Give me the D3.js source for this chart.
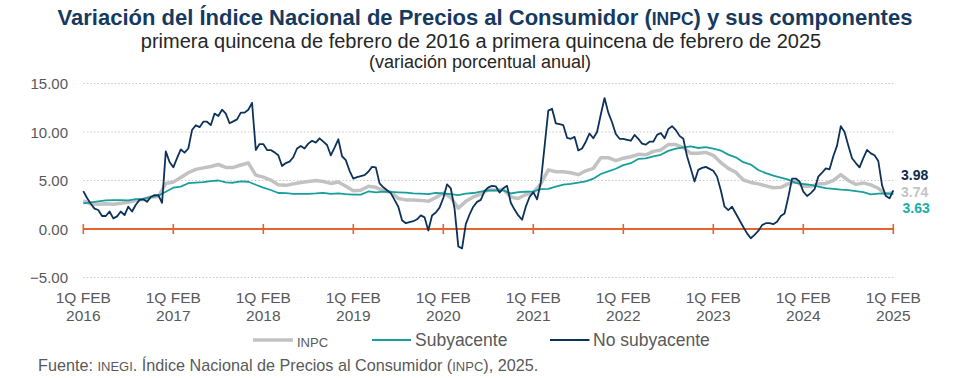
<!DOCTYPE html>
<html>
<head>
<meta charset="utf-8">
<script src="https://cdn.jsdelivr.net/npm/d3@7/dist/d3.min.js"></script>
<style>
  html, body { margin: 0; padding: 0; background: #ffffff; }
  svg { display: block; font-family: "Liberation Sans", Arial, sans-serif; }
</style>
</head>
<body>
<svg id="chart" width="977" height="378"></svg>
<script>
// ---- Data (annual % change, biweekly index q: 0 = 1Q Feb 2016 ... 216 = 1Q Feb 2025) ----
const yearLabels = ["2016","2017","2018","2019","2020","2021","2022","2023","2024","2025"];
const tickQ = [0,24,48,72,96,120,144,168,192,216];
const yTicks = [-5, 0, 5, 10, 15];

// INPC (headline) – monthly readings (1Q of each month), q = 2*k
const inpc = [2.9,2.6,2.55,2.6,2.55,2.65,2.75,2.95,3.05,3.3,3.35,
  4.7,4.85,5.3,5.8,6.15,6.3,6.45,6.65,6.35,6.35,6.6,6.8,
  5.55,5.35,5.05,4.55,4.5,4.65,4.8,4.9,5.0,4.9,4.7,4.85,
  4.4,3.95,4.0,4.4,4.3,3.95,3.8,3.15,3.0,3.0,2.95,2.85,
  3.25,3.7,3.25,2.15,2.85,3.3,3.6,4.05,4.0,4.1,3.3,3.15,
  3.55,3.75,4.65,6.1,5.9,5.9,5.8,5.6,6.0,6.25,7.35,7.35,
  7.05,7.3,7.45,7.7,7.65,8.0,8.15,8.7,8.7,8.4,7.8,7.8,
  7.9,7.6,6.85,6.25,5.85,5.05,4.8,4.65,4.45,4.25,4.3,4.65,
  4.9,4.4,4.4,4.65,4.7,5.0,5.6,5.0,4.6,4.75,4.55,4.2,
  3.6,3.74];

// Subyacente (core) – monthly readings, q = 2*k
const subyacente = [2.65,2.75,2.85,2.95,2.97,2.97,2.96,3.07,3.1,3.29,3.44,
  3.84,4.26,4.37,4.72,4.78,4.83,4.94,5.0,4.8,4.77,4.9,4.87,
  4.56,4.27,4.02,3.71,3.69,3.62,3.63,3.63,3.67,3.73,3.63,3.68,
  3.6,3.54,3.55,3.87,3.77,3.85,3.82,3.78,3.75,3.68,3.65,3.59,
  3.73,3.66,3.6,3.5,3.64,3.71,3.85,3.97,3.99,3.98,3.66,3.8,
  3.84,3.87,4.12,4.13,4.37,4.58,4.66,4.78,4.92,5.19,5.67,5.94,
  6.21,6.59,6.78,7.22,7.28,7.49,7.65,8.05,8.28,8.42,8.51,8.35,
  8.45,8.29,8.09,7.67,7.39,6.89,6.64,6.08,5.76,5.5,5.3,5.09,
  4.76,4.64,4.55,4.37,4.21,4.13,4.05,4.0,3.91,3.8,3.58,3.65,
  3.66,3.63];

// No subyacente (non-core) – biweekly readings, q = index
const noSubyacente = [3.9,3.2,2.6,2.1,1.96,1.34,1.34,1.8,1.1,1.3,1.8,1.44,2.3,1.8,2.5,3.0,3.06,2.8,3.3,3.5,3.5,2.7,
  8.0,6.9,6.36,7.3,8.2,7.87,8.3,10.2,10.7,10.5,11.06,11.06,10.7,11.9,11.65,12.3,11.9,10.9,11.1,11.3,12.0,12.0,12.3,13.0,
  8.14,8.76,8.76,8.14,8.14,7.9,7.6,6.5,6.8,6.94,7.4,8.3,8.56,8.3,8.8,9.1,8.9,9.35,9.0,8.66,7.6,8.4,9.25,7.5,
  7.1,6.0,5.2,5.35,5.45,5.55,5.9,6.4,6.35,4.7,4.3,4.0,3.7,3.0,2.3,0.9,0.6,0.7,0.8,1.0,1.4,1.2,-0.15,1.4,
  1.7,2.2,3.2,4.6,4.2,2.1,-1.8,-2.0,0.5,1.5,2.3,2.8,3.0,3.9,4.3,4.45,4.4,3.75,4.2,4.45,2.7,2.0,1.4,0.95,
  2.3,3.3,3.8,3.05,4.8,8.5,12.2,12.4,10.9,10.8,10.7,9.4,9.3,9.5,8.1,8.3,9.0,9.85,9.35,10.0,11.8,13.5,12.0,11.0,
  9.8,9.3,9.3,9.2,9.1,9.7,9.3,8.8,8.7,9.0,9.0,9.7,9.9,9.35,10.3,10.6,10.2,9.6,9.3,7.5,6.2,4.9,6.1,6.3,
  6.4,6.2,6.0,5.4,4.0,2.3,1.95,2.3,1.6,0.9,0.2,-0.45,-0.95,-0.6,-0.2,0.4,0.6,0.6,0.5,0.75,1.35,1.6,3.3,5.2,
  5.2,4.9,3.85,3.4,3.7,4.1,5.4,5.8,6.25,6.15,7.5,8.6,10.6,10.0,8.6,7.3,6.8,6.35,7.3,8.15,7.8,7.6,7.0,4.5,
  3.4,3.16,3.98];

const lastValues = {noSub: "3.98", inpc: "3.74", sub: "3.63"};

// ---- Chart ----
const svg = d3.select("#chart");
const C = {navy: "#0c3259", teal: "#179f9c", gray: "#c2c2c2", orange: "#e3642c", text: "#595959", title: "#163a5f"};

const x = d3.scaleLinear().domain([0, 216]).range([83.3, 893.3]);
const y = d3.scaleLinear().domain([-5, 15]).range([277.5, 83.5]);

// Title
const t = svg.append("text").attr("x", 485).attr("y", 25).attr("text-anchor", "middle")
  .attr("font-size", 22).attr("font-weight", "bold").attr("fill", C.title);
t.append("tspan").text("Variación del Índice Nacional de Precios al Consumidor (");
t.append("tspan").attr("font-size", 17.5).text("INPC");
t.append("tspan").text(") y sus componentes");

svg.append("text").attr("x", 481).attr("y", 47.5).attr("text-anchor", "middle")
  .attr("font-size", 20).attr("fill", "#262626")
  .text("primera quincena de febrero de 2016 a primera quincena de febrero de 2025");
svg.append("text").attr("x", 480).attr("y", 68).attr("text-anchor", "middle")
  .attr("font-size", 18).attr("fill", "#262626")
  .text("(variación porcentual anual)");

// Gridlines
svg.append("g").selectAll("line").data(yTicks.filter(d => d !== 0)).join("line")
  .attr("x1", x(0)).attr("x2", x(216))
  .attr("y1", d => y(d)).attr("y2", d => y(d))
  .attr("stroke", "#c8c8c8").attr("stroke-width", 1).attr("stroke-dasharray", "1.5,2");

// Y axis labels
const yAxis = d3.axisLeft(y).tickValues(yTicks).tickFormat(d3.format(".2f")).tickSize(0).tickPadding(0);
const gy = svg.append("g").attr("transform", "translate(68,0)").call(yAxis);
gy.select(".domain").remove();
gy.selectAll("text").attr("font-size", 15).attr("fill", C.text)
  .attr("font-family", "Liberation Sans, Arial, sans-serif").attr("dy", "0.36em");

// X axis labels
const gx = svg.append("g");
gx.selectAll("text.q").data(tickQ).join("text").attr("class", "q")
  .attr("x", d => x(d)).attr("y", 303).attr("text-anchor", "middle")
  .attr("font-size", 15.5).attr("fill", C.text).text("1Q FEB");
gx.selectAll("text.yr").data(tickQ).join("text").attr("class", "yr")
  .attr("x", d => x(d)).attr("y", 320.5).attr("text-anchor", "middle")
  .attr("font-size", 15.5).attr("fill", C.text).text((d, i) => yearLabels[i]);

// Zero line with ticks
svg.append("line").attr("x1", x(0)).attr("x2", x(216)).attr("y1", y(0)).attr("y2", y(0))
  .attr("stroke", C.orange).attr("stroke-width", 2);
svg.append("g").selectAll("line").data(tickQ).join("line")
  .attr("x1", d => x(d)).attr("x2", d => x(d))
  .attr("y1", y(0) - 5).attr("y2", y(0) + 5)
  .attr("stroke", C.orange).attr("stroke-width", 1.6);

// Lines
const monthly = arr => arr.map((v, k) => ({q: 2 * k, v}));
const biweekly = arr => arr.map((v, k) => ({q: k, v}));
const line = d3.line().x(d => x(d.q)).y(d => y(d.v));

svg.append("path").datum(monthly(inpc)).attr("d", line)
  .attr("fill", "none").attr("stroke", C.gray).attr("stroke-width", 3.5).attr("stroke-linejoin", "round");
svg.append("path").datum(monthly(subyacente)).attr("d", line)
  .attr("fill", "none").attr("stroke", C.teal).attr("stroke-width", 1.8).attr("stroke-linejoin", "round");
svg.append("path").datum(biweekly(noSubyacente)).attr("d", line)
  .attr("fill", "none").attr("stroke", C.navy).attr("stroke-width", 1.8).attr("stroke-linejoin", "round");

// End labels
svg.append("text").attr("x", 901).attr("y", 179.5).attr("font-size", 14).attr("font-weight", "bold")
  .attr("fill", "#0d2c4d").text(lastValues.noSub);
svg.append("text").attr("x", 901).attr("y", 196.5).attr("font-size", 14).attr("font-weight", "bold")
  .attr("fill", "#c4c4c4").text(lastValues.inpc);
svg.append("text").attr("x", 902.5).attr("y", 213).attr("font-size", 14).attr("font-weight", "bold")
  .attr("fill", "#1aaeaa").text(lastValues.sub);

// Legend
const lg = svg.append("g");
lg.append("line").attr("x1", 253).attr("x2", 293).attr("y1", 340).attr("y2", 340)
  .attr("stroke", C.gray).attr("stroke-width", 3.5);
lg.append("text").attr("x", 297).attr("y", 346.5).attr("font-size", 13).attr("fill", C.text).text("INPC");
lg.append("line").attr("x1", 372).attr("x2", 411).attr("y1", 340).attr("y2", 340)
  .attr("stroke", C.teal).attr("stroke-width", 2);
lg.append("text").attr("x", 415).attr("y", 346).attr("font-size", 17.5).attr("fill", C.text).text("Subyacente");
lg.append("line").attr("x1", 550).attr("x2", 589.5).attr("y1", 340).attr("y2", 340)
  .attr("stroke", C.navy).attr("stroke-width", 2);
lg.append("text").attr("x", 593).attr("y", 346).attr("font-size", 17.5).attr("fill", C.text).text("No subyacente");

// Source
const s = svg.append("text").attr("x", 38).attr("y", 371).attr("font-size", 16.2).attr("fill", C.text);
s.append("tspan").text("Fuente: ");
s.append("tspan").attr("font-size", 13).text("INEGI");
s.append("tspan").text(". Índice Nacional de Precios al Consumidor (");
s.append("tspan").attr("font-size", 13).text("INPC");
s.append("tspan").text("), 2025.");
</script>
</body>
</html>
